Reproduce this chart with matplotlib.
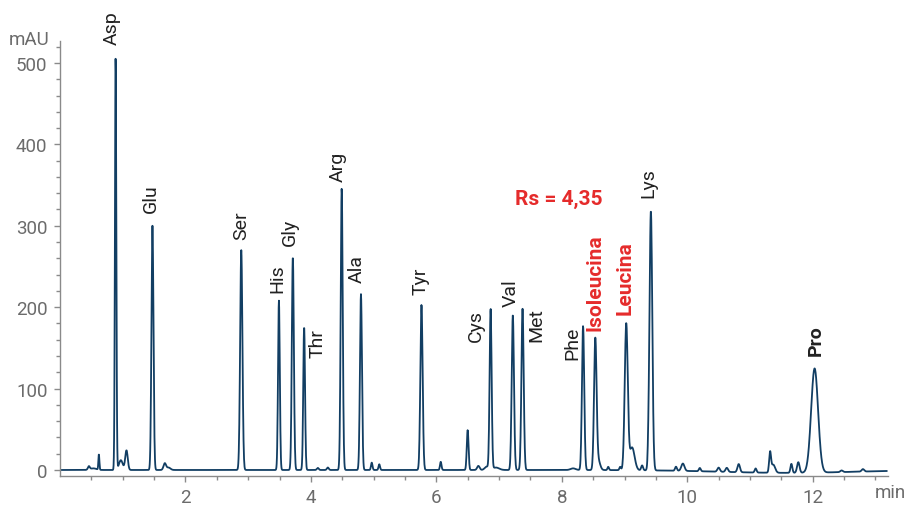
import numpy as np
import matplotlib
matplotlib.use("Agg")
import matplotlib.pyplot as plt

plt.rcParams['font.family'] = ['Roboto', 'DejaVu Sans']

# peak table: retention time (min), height (mAU), sigma (min)
rt_main = [0.887, 1.474, 2.890, 3.490, 3.712, 3.892, 4.491, 4.798, 5.763,
           6.499, 6.865, 7.219, 7.374, 8.339, 8.534, 9.027, 9.420, 12.03]
h_main = [507, 300, 270, 208, 262, 176, 346, 216, 203,
          49, 197, 190, 198, 177, 159, 179, 319, 128]
w_main = [0.011, 0.016, 0.018, 0.014, 0.016, 0.014, 0.016, 0.016, 0.018,
          0.014, 0.016, 0.018, 0.018, 0.018, 0.020, 0.024, 0.022, 0.055]

# small impurity peaks and baseline features
rt_minor = [0.46, 0.53, 0.62, 0.97, 1.06, 1.67, 1.73, 4.11, 4.27, 4.97, 5.09,
            6.07, 6.67, 6.80, 6.95, 8.18, 8.58, 8.74, 8.93, 9.12, 9.28, 9.38,
            9.82, 9.93, 10.20, 10.50, 10.63, 10.82, 11.09, 11.32, 11.37,
            11.66, 11.77, 12.46, 12.80, 11.6]
h_minor = [4, 2, 19, 12, 24, 8, 3, 2.5, 3, 9, 7,
           10, 5, 4, 3, 2, 12, 4, 4, 28, 6, 10,
           5, 9, 4, 5, 5, 10, 5, 24, 10,
           11, 13, 2, 3, -3.5]
w_minor = [0.015, 0.05, 0.008, 0.03, 0.02, 0.02, 0.03, 0.015, 0.015, 0.012, 0.012,
           0.012, 0.02, 0.03, 0.05, 0.04, 0.03, 0.012, 0.012, 0.04, 0.015, 0.010,
           0.015, 0.025, 0.015, 0.02, 0.02, 0.02, 0.015, 0.015, 0.03,
           0.015, 0.02, 0.02, 0.02, 1.1]

# peak names and where their labels sit (min, mAU)
names = ["Asp", "Glu", "Ser", "His", "Gly", "Thr", "Arg", "Ala", "Tyr",
         "Cys", "Val", "Met", "Phe", "Lys"]
name_x = [0.823, 1.444, 2.882, 3.463, 3.669, 4.099, 4.424, 4.734, 5.752,
          6.634, 7.183, 7.596, 8.168, 9.377]
name_y = [523, 317, 284, 219, 276, 139, 355, 231, 216,
          159, 202, 159, 136, 335]

red_names = ["Isoleucina", "Leucina"]
red_x = [8.534, 9.011]
red_y = [172, 192]

t = np.arange(0.03, 13.18, 0.004)
signal = np.zeros_like(t)
for c, h, s in zip(rt_main + rt_minor, h_main + h_minor, w_main + w_minor):
    signal += h * np.exp(-0.5 * ((t - c) / s) ** 2)

fig = plt.figure(figsize=(9.07, 5.06), dpi=100)
ax = fig.add_axes([60 / 907, 29 / 506, 828 / 907, 435 / 506])
ax.plot(t, signal, color="#123e63", lw=1.3)

ax.set_xlim(0.0, 13.2)
ax.set_ylim(-7.4, 527)

for side in ["top", "right"]:
    ax.spines[side].set_visible(False)
for side in ["left", "bottom"]:
    ax.spines[side].set_color("#8a8a8a")
    ax.spines[side].set_linewidth(1.0)

ax.set_xticks([2, 4, 6, 8, 10, 12])
ax.set_xticks(np.arange(0.5, 13.2, 0.5), minor=True)
ax.set_yticks([0, 100, 200, 300, 400, 500])
ax.set_yticks(np.arange(0, 527, 20), minor=True)
ax.tick_params(which="both", colors="#8a8a8a", labelcolor="#6b6b6b", labelsize=13.5)
ax.tick_params(which="major", length=4, width=1, pad=5)
ax.tick_params(which="minor", length=3, width=1)

fig.text(50 / 907, 1 - 40 / 506, "mAU", ha="right", va="center", fontsize=13.5, color="#6b6b6b")
fig.text(890 / 907, 1 - 493 / 506, "min", ha="center", va="center", fontsize=13.5, color="#6b6b6b")

for n, x, y in zip(names, name_x, name_y):
    ax.text(x, y, n, rotation=90, ha="center", va="bottom", fontsize=14, color="#222222")
for n, x, y in zip(red_names, red_x, red_y):
    ax.text(x, y, n, rotation=90, ha="center", va="bottom", fontsize=15,
            color="#e52b2b", fontweight="bold")
ax.text(12.047, 141, "Pro", rotation=90, ha="center", va="bottom", fontsize=14,
        color="#222222", fontweight="bold")
ax.text(7.946, 333, "Rs = 4,35", ha="center", va="center", fontsize=15,
        color="#e52b2b", fontweight="bold")

fig.savefig("out.png", dpi=100)
